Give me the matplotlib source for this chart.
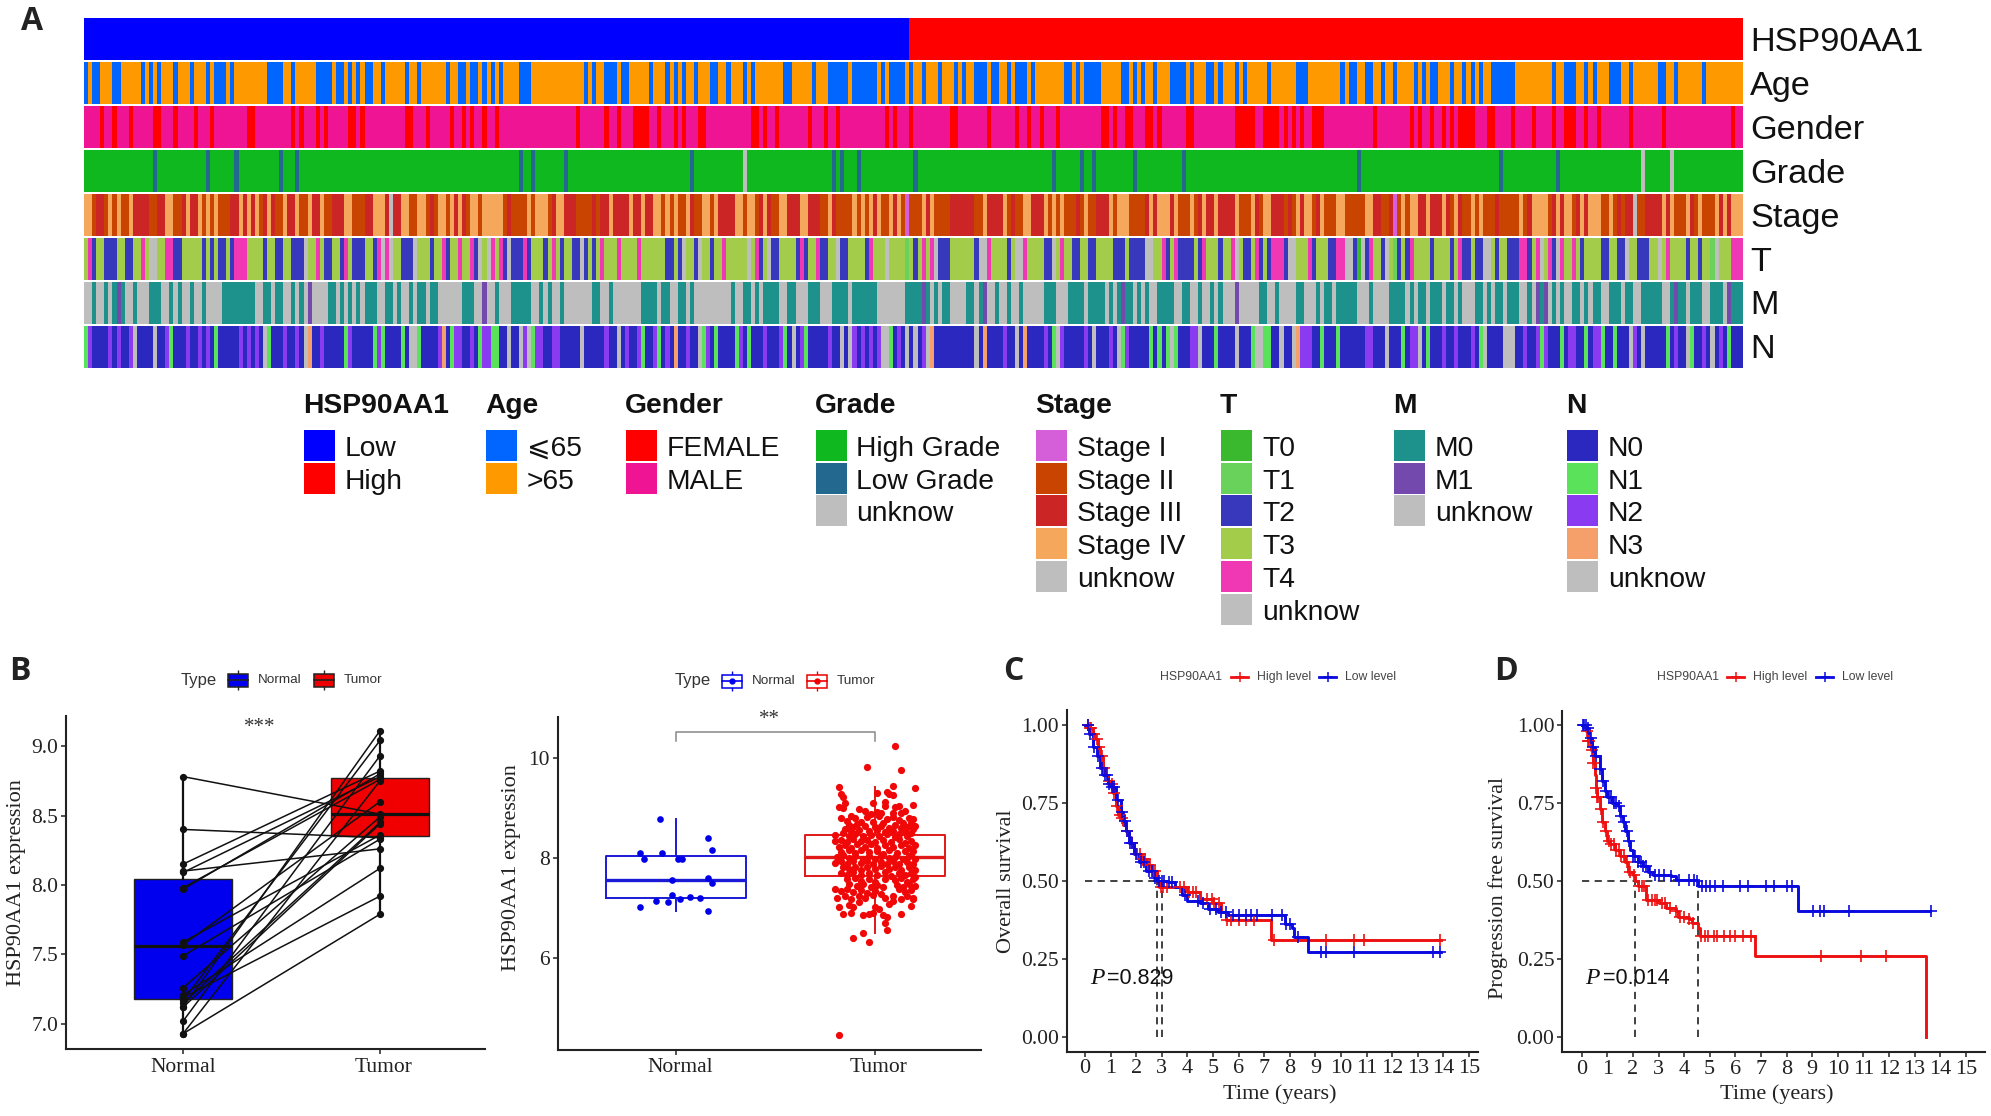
import numpy as np
import matplotlib
matplotlib.use("Agg")
import matplotlib.pyplot as plt
from matplotlib.colors import ListedColormap
from matplotlib.patches import Rectangle
from matplotlib.transforms import ScaledTranslation

W, H = 1991, 1116
SERIF = "Liberation Serif"
SANS = "Liberation Sans"
plt.rcParams["font.family"] = SANS

# ---------------- Panel A data: patient columns (run start, run stop) ----------------
N_PATIENTS = 408
N_LOW = 203
age_young = [(0,1),(2,4),(7,9),(14,15),(16,17),(18,19),(22,23),(26,27),(30,31),(32,35),(36,37),(45,49),(51,52),(57,61),(62,64),(65,66),(67,68),(69,71),(73,74),(79,80),(82,83),(89,90),(92,94),(95,97),(98,99),(100,101),(102,103),(107,110),(123,124),(125,126),(128,131),(132,134),(139,140),(143,144),(145,146),(147,148),(150,151),(154,156),(158,159),(162,163),(164,165),(172,174),(179,180),(183,188),(189,195),(196,197),(198,202),(203,204),(206,207),(210,211),(214,215),(216,217),(219,222),(223,225),(227,228),(229,232),(233,234),(241,243),(244,245),(246,250),(255,257),(258,259),(260,261),(263,264),(267,271),(272,273),(276,278),(279,280),(283,284),(285,286),(291,292),(298,301),(309,310),(311,313),(315,317),(319,320),(322,323),(327,328),(329,330),(331,333),(336,337),(339,340),(341,342),(343,344),(346,352),(361,362),(364,367),(369,370),(371,372),(375,378),(380,381),(387,389),(391,392),(398,399)]
gender_female = [(4,5),(7,8),(11,12),(17,19),(22,23),(27,28),(31,32),(40,42),(51,52),(53,54),(57,58),(59,60),(65,67),(68,69),(79,81),(84,85),(90,91),(93,94),(95,96),(98,99),(101,102),(121,122),(128,129),(131,132),(135,139),(141,142),(145,146),(147,148),(151,153),(164,166),(167,168),(170,171),(178,179),(182,183),(185,186),(197,198),(199,200),(203,204),(213,215),(222,223),(229,230),(232,233),(235,236),(239,240),(250,252),(253,254),(256,258),(261,263),(264,265),(271,273),(283,288),(290,293),(293,294),(295,296),(297,298),(299,300),(302,305),(317,318),(326,327),(328,329),(331,332),(334,335),(336,337),(338,339),(339,342),(345,347),(351,352),(356,357),(361,362),(364,367),(369,370),(372,373),(380,381),(388,389),(405,406)]
grade_low = [(17,18),(30,31),(37,38),(48,49),(52,53),(107,108),(110,111),(118,119),(149,150),(184,185),(186,187),(190,191),(204,205),(238,239),(245,246),(248,249),(258,259),(270,271),(313,314),(348,349),(362,363)]
grade_unknown = [(162,163),(383,384),(390,391)]

# Patient-by-patient categories, run-length coded, three blocks of 136 patients.
# Stage: I=stage I, D=stage II, R=stage III, L=stage IV, U=unknow
stage_runs = [
 "L2 D R2 D L D L D2 L R4 D2 R2 L2 D2 R L R2 L D L D L D3 R2 L R L R L D R L R D2 L R2 L D2 L R2 L D2 R3 L2 D3 R2 L3 R U R2 L2 D2 L2 D R D L2 D L R L R D L2 D L5 D R D4 L D L3 D R L2 R3 D4 R D R2 L R4 L R",
 "R L R2 L2 D L D L D2 L R D2 L2 D L R4 L2 D L2 D R L R D2 L2 R3 L2 R3 D2 L R D4 L D L D L R L D2 L R L D I D3 L R L D4 R6 D2 L R4 L D R D2 L2 R3 L D L D L D2 D R D L D2 R3 L D L3 D4 R L R L3 R L D",
 "L D R L R2 L R4 L D3 L R D L2 R3 D R D L R L2 D R L D3 L2 D5 L2 R2 D2 R I D L D L2 R2 L R3 L R D L R D2 L D L D2 D R D D4 L D R L4 D R L R L2 D R L R L3 D2 L D R D R R U D2 R4 L R L D3 L R D L D3 L R L R L",
]
# T: 0=T0, 1=T1, B=T2, G=T3, P=T4, U=unknow
t_runs = [
 "G P B G2 B3 G2 B2 G2 P G U2 G2 P2 B2 G5 B G B G B2 G B P3 G4 B G2 B2 G2 B3 U G2 P G B2 G2 B P G B3 G2 B P U P U G2 B3 U G3 B G2 P B G2 P G2 P B U G U P G P B U B3 P B G3 B G P G B G2 B2 U B G B G P G3 P G3",
 "P G6 B2 G B U G2 B U G2 B G2 P G5 U G P B G U B2 G4 B P B G2 P B2 G2 U B2 G4 B P G3 U G4 1 G B G P G P U B3 G6 B U2 P G4 B G U2 P G4 B2 U G P G2 B2 G2 B2 G4 B3 G B4 U2 G2 P B G P B2",
 "B G B P G3 B G2 P U G B2 G P B G B P3 B U2 G3 P B G3 B2 P2 U2 B 0 U B P G2 B U G 1 B G B P G4 B G4 B G P B2 G B2 U2 G B G2 B3 P2 B G P U G P B U P G2 P G B G4 B2 G2 B2 U G2 B3 G2 U G P G4 B G2 B G2 1 U G3 P2",
]
# M: M=M0, P=M1, U=unknow
m_runs = [
 "U2 M U2 M U M P M U2 M U3 M3 U2 M U M U2 M U2 M U4 M8 U2 M2 U M2 U2 M U M U P U4 M2 U M U M U M U M3 U2 M2 U M U2 M U M2 U M2 U6 M3 U2 P U2 M U3 M5 U2 M U M U2 M U7 M2 U2 M U5",
 "U M4 U M2 U2 M2 U M U9 M U2 M2 U M U M4 U2 M2 U3 M3 U3 M4 U M6 U7 M4 P M U M U M2 U4 M2 U M P U2 M U2 M U2 M U5 M3 U3 M4 U M4 U M U M P M2 U M U M U2 M4 U2 M",
 "U2 M U2 M U M U3 P U5 M2 U2 M U4 M2 U3 M U M2 U M5 U3 M U4 M4 U M U M2 U M3 U M2 U M U3 M2 U M U M2 U M3 U2 M U P M P U M U M U2 M2 U M U M2 U2 M3 U M2 U2 M5 U2 M P M2 U M3 U2 M3 U P M2",
]
# N: B=N0, G=N1, P=N2, O=N3, U=unknow
n_runs = [
 "G P B4 P B P B2 P U B4 U B2 P G B3 P B2 P B P B G B5 P B P B P B U G B3 P B2 P B U O B2 P B5 G P B5 G P G B4 G B U2 G B4 P O B G P2 B2 P B G P2 G2 B2 U B2 U P U G P2 B2 P2 B5 U B5 P B2 U B P B",
 "P G B2 P G B P B O B2 P B2 U G P B G B4 G P B G B3 P B3 P G B U B P G B5 P B2 U B U P B P B P B P U2 G B P B U B U B P U O B10 U B O B4 P B2 U B O B4 P B G U P B5 P B U B3 P B U G P B5 G B G B G U G B2",
 "P2 U B3 G B4 U B3 G U2 G2 B2 U B2 U O P3 B2 G B3 G B6 P2 B3 U B3 G B P2 U B G B3 P B2 P B3 P B G U B4 U3 B2 P B2 P G P B3 G B P2 B2 G B P2 G B2 G B3 U P B U B5 G B P B2 U G B2 P B U B P B G B2",
]

track_names = ["HSP90AA1", "Age", "Gender", "Grade", "Stage", "T", "M", "N"]
track_colors = [
    ["#0000ff", "#ff0000"],
    ["#0066ff", "#ff9900"],
    ["#ff0000", "#ee1493"],
    ["#10b820", "#23688f", "#bebebe"],
    ["#d45fd8", "#c84400", "#cc2525", "#f5a85c", "#bebebe"],
    ["#3ab82e", "#69d25a", "#3838bc", "#a3cc4a", "#f038b4", "#bebebe"],
    ["#1d918c", "#7349ae", "#bebebe"],
    ["#2a28bf", "#5ae35a", "#8a3af0", "#f5a06a", "#bebebe"],
]
track_labels = [
    ["Low", "High"],
    ["\u2a7d65", ">65"],
    ["FEMALE", "MALE"],
    ["High Grade", "Low Grade", "unknow"],
    ["Stage I", "Stage II", "Stage III", "Stage IV", "unknow"],
    ["T0", "T1", "T2", "T3", "T4", "unknow"],
    ["M0", "M1", "unknow"],
    ["N0", "N1", "N2", "N3", "unknow"],
]

def track(default, *layers):
    a = np.full(N_PATIENTS, default)
    for code, runs in layers:
        for s, e in runs:
            a[s:e] = code
    return a

def decode(blocks, codes, block_len=136):
    out = []
    for text in blocks:
        seq = []
        for tok in text.split():
            sym, n = tok[0], tok[1:]
            seq += [codes[sym]] * (int(n) if n else 1)
        seq = seq[:block_len]
        seq += [seq[-1]] * (block_len - len(seq))
        out += seq
    return np.array(out)

tracks = [
    track(1, (0, [(0, N_LOW)])),
    track(1, (0, age_young)),
    track(1, (0, gender_female)),
    track(0, (1, grade_low), (2, grade_unknown)),
    decode(stage_runs, dict(I=0, D=1, R=2, L=3, U=4)),
    decode(t_runs, {"0": 0, "1": 1, "B": 2, "G": 3, "P": 4, "U": 5}),
    decode(m_runs, dict(M=0, P=1, U=2)),
    decode(n_runs, dict(B=0, G=1, P=2, O=3, U=4)),
]

# ---------------- Panel B data ----------------
paired_normal = [8.78, 8.40, 8.15, 8.10, 8.09, 7.98, 7.97, 7.59, 7.57, 7.49, 7.26, 7.21, 7.19, 7.17, 7.15, 7.12, 7.12, 7.02, 6.93, 6.93]
paired_tumor  = [8.51, 8.34, 8.82, 8.26, 8.78, 8.76, 8.80, 8.36, 8.60, 8.33, 8.49, 8.12, 7.92, 9.04, 8.45, 9.11, 8.44, 8.93, 8.75, 7.79]
paired_box_normal = dict(q1=7.18, med=7.56, q3=8.04, whislo=6.93, whishi=8.78)
paired_box_tumor = dict(q1=8.35, med=8.51, q3=8.77, whislo=7.79, whishi=9.11)
box_normal = dict(q1=7.19, med=7.56, q3=8.03, whislo=6.93, whishi=8.77)
box_tumor = dict(q1=7.63, med=8.02, q3=8.45, whislo=6.49, whishi=9.42)
normal_jitter = [-0.08, 0.16, 0.18, -0.18, -0.07, -0.16, 0.01, 0.03, -0.02, 0.16, 0.18, -0.02, 0.07, 0.12, 0.02, -0.04, -0.10, -0.18, 0.16]
normal_values = [8.77, 8.40, 8.15, 8.09, 8.10, 7.98, 7.98, 7.97, 7.56, 7.59, 7.50, 7.26, 7.22, 7.20, 7.17, 7.12, 7.13, 7.02, 6.93]
tumor_points = [
 (.10,10.23),(-.04,9.81),(.13,9.75),(-.18,9.42),(.09,9.43),(.20,9.40),(.01,9.29),(.06,9.32),(-.17,9.27),(.09,9.26),(-.16,9.22),(.07,9.27),
 (-.15,9.10),(.05,9.12),(-.01,9.09),(-.18,9.02),(-.16,9.00),(.12,9.03),(.10,9.02),(.19,9.05),(.05,9.04),(-.08,8.97),(-.05,8.94),(.01,8.92),(.03,8.89),(.09,8.90),(.15,8.94),(.13,8.90),(-.02,8.88),
 (-.17,8.79),(-.12,8.84),(-.10,8.80),(-.04,8.82),(.02,8.84),(.06,8.78),(.09,8.82),(.12,8.76),(.17,8.79),(.19,8.78),(-.14,8.74),(-.07,8.72),(-.01,8.72),(.04,8.70),(.14,8.70),(.18,8.70),(.20,8.63),
 (-.13,8.66),(-.11,8.62),(-.09,8.68),(-.05,8.63),(.00,8.61),(.03,8.64),(.07,8.60),(.10,8.66),(.13,8.60),(.16,8.62),(.19,8.57),(-.15,8.58),(-.12,8.53),(-.08,8.56),(-.03,8.53),(.01,8.55),(.05,8.52),(.09,8.53),(.15,8.54),(.18,8.50),
 (-.20,8.45),(-.16,8.49),(-.13,8.44),(-.10,8.48),(-.06,8.43),(-.02,8.46),(.02,8.43),(.06,8.47),(.10,8.41),(.12,8.47),(.16,8.43),(.20,8.26),(-.20,8.33),(-.17,8.36),(-.14,8.32),(-.11,8.37),(-.07,8.33),(-.04,8.36),(.00,8.31),(.04,8.36),(.08,8.32),(.12,8.37),(.15,8.30),(.18,8.34),
 (-.18,8.22),(-.15,8.26),(-.12,8.20),(-.09,8.27),(-.05,8.22),(-.02,8.27),(.01,8.20),(.05,8.26),(.09,8.22),(.13,8.26),(.17,8.19),(.19,8.13),(-.17,8.12),(-.13,8.15),(-.10,8.09),(-.07,8.16),(-.03,8.11),(.01,8.14),(.04,8.08),(.07,8.15),(.11,8.10),(.15,8.13),(.18,8.06),
 (-.19,8.01),(-.16,8.05),(-.13,7.99),(-.10,8.04),(-.06,7.98),(-.03,8.03),(.00,7.97),(.03,8.03),(.07,7.99),(.10,8.02),(.14,7.97),(.17,8.03),(.20,7.97),(-.20,7.90),(-.17,7.93),(-.14,7.88),(-.11,7.94),(-.07,7.89),(-.04,7.93),(-.01,7.87),(.03,7.92),(.06,7.87),(.09,7.93),(.12,7.88),(.16,7.92),(.19,7.87),
 (-.16,7.81),(-.13,7.77),(-.10,7.82),(-.07,7.76),(-.04,7.82),(.00,7.78),(.03,7.83),(.07,7.77),(.10,7.82),(.13,7.76),(.17,7.81),(.20,7.75),(-.17,7.70),(-.14,7.66),(-.11,7.71),(-.07,7.65),(-.03,7.69),(.01,7.66),(.05,7.71),(.08,7.64),(.12,7.70),(.15,7.65),(.18,7.70),(.20,7.62),
 (-.14,7.57),(-.10,7.60),(-.07,7.54),(-.03,7.58),(.00,7.52),(.05,7.57),(.10,7.55),(.13,7.59),(.16,7.52),(.19,7.57),(-.13,7.47),(-.09,7.43),(-.06,7.48),(-.02,7.42),(.01,7.46),(.04,7.41),(.11,7.46),(.14,7.42),(.17,7.47),(.20,7.43),
 (-.20,7.38),(-.17,7.33),(-.14,7.37),(-.11,7.31),(-.07,7.36),(-.04,7.30),(.00,7.34),(.03,7.28),(.12,7.37),(.15,7.31),(.18,7.35),(-.19,7.20),(-.15,7.24),(-.12,7.18),(-.08,7.24),(-.05,7.20),(-.01,7.25),(.05,7.20),(.09,7.24),(.13,7.18),(.16,7.23),(.19,7.20),
 (-.18,7.01),(-.16,6.88),(-.13,7.06),(-.12,6.90),(-.11,7.02),(-.08,7.12),(-.06,6.86),(-.03,6.87),(-.01,6.90),(.00,7.02),(.02,6.98),(.04,6.85),(.06,6.82),(.07,7.08),(.09,7.14),(.13,6.87),(.18,7.03),(.19,7.18),(.05,6.69),(.06,6.55),
 (-.11,6.40),(-.06,6.49),(-.03,6.32),(-.18,4.45),
]
tumor_jitter = [p[0] for p in tumor_points]
tumor_values = [p[1] for p in tumor_points]

# ---------------- Panel C / D data: step curves (time, survival) and censor times ----------------
os_high_t = [0,.1,.2,.3,.4,.5,.6,.7,.8,.9,1.0,1.1,1.2,1.3,1.4,1.5,1.6,1.7,1.8,1.9,2.0,2.2,2.4,2.6,2.8,2.9,3.5,4.0,4.5,5.0,5.3,5.5,7.25,13.9]
os_high_s = [1,1,.99,.97,.955,.93,.90,.86,.84,.82,.81,.78,.74,.71,.70,.68,.66,.64,.62,.60,.585,.57,.55,.53,.50,.48,.48,.465,.44,.43,.40,.375,.31,.31]
os_low_t = [0,.15,.3,.45,.6,.7,.9,1.0,1.2,1.4,1.5,1.6,1.7,1.9,2.1,2.4,2.7,2.8,3.2,3.5,3.8,4.0,4.5,4.8,5.2,5.6,7.7,7.8,8.1,8.15,8.7,13.9]
os_low_s = [1,.97,.93,.90,.86,.84,.81,.80,.76,.72,.69,.66,.62,.585,.56,.53,.51,.50,.495,.48,.455,.435,.43,.41,.40,.39,.39,.36,.35,.32,.27,.27]
os_high_cens = [.1,.2,.25,.35,.45,.55,.65,.75,.95,1.05,1.15,1.25,1.35,1.45,1.65,1.85,2.05,2.15,2.25,2.35,2.45,2.55,2.65,2.75,2.95,3.05,3.2,3.7,3.85,4.05,4.2,4.35,4.75,4.95,5.05,5.25,5.55,5.7,6.0,6.3,6.6,7.4,9.4,10.5,10.9,13.85]
os_low_cens = [.1,.2,.35,.5,.65,.8,.85,.95,1.05,1.15,1.3,1.45,1.55,1.65,1.75,1.85,2.0,2.2,2.3,2.5,2.6,2.75,2.9,3.0,3.1,3.3,3.4,3.9,4.4,4.6,4.9,5.1,5.3,5.5,5.8,6.0,6.3,6.5,6.7,7.3,7.7,7.85,8.0,8.3,9.2,9.4,10.5,13.6,13.85]
pfs_high_t = [0,.15,.25,.35,.45,.5,.55,.6,.7,.8,.9,1.0,1.1,1.3,1.5,1.7,1.8,2.0,2.1,2.2,2.5,3.0,3.3,3.7,3.75,4.2,4.3,4.55,4.6,6.75,13.45,13.45]
pfs_high_s = [1,.98,.95,.92,.88,.84,.80,.77,.73,.69,.66,.63,.62,.60,.58,.56,.53,.52,.50,.485,.44,.43,.415,.405,.385,.38,.365,.35,.325,.26,.26,0]
pfs_low_t = [0,.2,.3,.4,.5,.7,.8,.9,1.0,1.2,1.4,1.5,1.6,1.7,1.8,1.9,2.0,2.2,2.4,2.6,2.8,3.5,3.7,4.5,4.55,8.45,13.6]
pfs_low_s = [1,.99,.96,.93,.90,.86,.82,.79,.77,.75,.74,.71,.69,.66,.63,.60,.58,.56,.55,.53,.52,.515,.505,.50,.485,.405,.405]
pfs_high_cens = [.2,.25,.3,.4,.45,.55,.6,.65,.75,.85,.95,1.05,1.15,1.25,1.35,1.45,1.55,1.65,1.75,1.9,2.05,2.25,2.35,2.45,2.6,2.75,2.85,2.95,3.15,3.25,3.45,3.7,3.85,4.0,4.2,4.35,4.65,4.8,4.95,5.15,5.3,5.55,5.8,6.0,6.3,6.6,9.35,10.9,11.9]
pfs_low_cens = [.05,.1,.15,.25,.35,.45,.55,.7,.85,.95,1.05,1.15,1.25,1.35,1.45,1.55,1.65,1.75,1.85,2.0,2.1,2.2,2.3,2.4,2.5,2.65,2.85,3.0,3.2,3.5,3.8,4.2,4.4,4.5,4.7,4.85,5.0,5.2,5.5,6.2,6.5,7.2,7.5,8.0,8.2,9.05,9.3,9.45,10.45,13.65]

fig = plt.figure(figsize=(W / 100, H / 100), dpi=100, facecolor="white")

def px_axes(l, t, r, b, **kw):
    return fig.add_axes([l / W, 1 - b / H, (r - l) / W, (b - t) / H], **kw)

ov = px_axes(0, 0, W, H)
ov.set_xlim(0, W); ov.set_ylim(H, 0); ov.axis("off"); ov.set_zorder(5)

# ---------------- Panel A ----------------
HM_L, HM_R = 84, 1743
for i, (arr, cols) in enumerate(zip(tracks, track_colors)):
    top = 18.3 + 43.95 * i
    ax = px_axes(HM_L, top, HM_R, top + 42)
    ax.imshow(arr[None, :], aspect="auto", cmap=ListedColormap(cols), vmin=-0.5, vmax=len(cols) - 0.5,
              interpolation="nearest")
    ax.axis("off")
    ov.text(1750, top + 24, track_names[i], fontsize=24.7, va="center", ha="left", color="#111111")

leg_x = [304, 486, 626, 815.5, 1036, 1221, 1394, 1567]
for x, name, cols, labs in zip(leg_x, track_names, track_colors, track_labels):
    ov.text(x - 1, 406, name, fontsize=20.3, fontweight="bold", va="center", ha="left", color="#111111")
    sw = 31
    for j, (c, lab) in enumerate(zip(cols, labs)):
        y = 430 + 32.7 * j
        ov.add_patch(Rectangle((x, y), sw, 31, facecolor=c, edgecolor="none"))
        fam = ["Liberation Sans", "DejaVu Sans"]
        ov.text(x + 41, y + 19, lab, fontsize=20.3, va="center", ha="left", color="#111111", family=fam)

for letter, x, y in [("A", 21, 21), ("B", 9, 672), ("C", 1003, 672), ("D", 1494, 672)]:
    ov.text(x, y, letter, fontsize=23, fontweight="bold", family="Open Sans", va="center", ha="left", color="#222222")

def style(ax, ylabel, yt, ytl, xt, xtl, xfs=15.5):
    for s in ("top", "right"):
        ax.spines[s].set_visible(False)
    for s in ("left", "bottom"):
        ax.spines[s].set_linewidth(1.5)
        ax.spines[s].set_color("#222222")
    ax.set_yticks(yt); ax.set_yticklabels(ytl, family=SERIF, fontsize=15.5, color="#222222")
    ax.set_xticks(xt); ax.set_xticklabels(xtl, family=SERIF, fontsize=xfs, color="#222222")
    ax.tick_params(axis="both", length=3.5, width=1.1, color="#222222", pad=2)
    ax.set_ylabel(ylabel, family=SERIF, fontsize=16, color="#222222")

def nudge_xlabels(ax, dxs):
    for lab, dx in zip(ax.get_xticklabels(), dxs):
        lab.set_transform(lab.get_transform() + ScaledTranslation(dx / 100, -1 / 100, fig.dpi_scale_trans))

def type_legend(xtype, x1, xt1, x2, xt2, y, filled):
    ov.text(xtype, y, "Type", fontsize=12, va="center", ha="left", color="#333333")
    for x, xt, c, lab in [(x1, xt1, "#0000ee", "Normal"), (x2, xt2, "#ee0000", "Tumor")]:
        ec = "#222222" if filled else c
        fc = c if filled else "white"
        ov.plot([x + 10, x + 10], [y - 10, y + 10], color=ec, lw=1, solid_capstyle="butt")
        ov.add_patch(Rectangle((x, y - 6.5), 20, 13, facecolor=fc, edgecolor=ec, lw=1.1, zorder=3))
        ov.plot([x, x + 20], [y, y], color=ec, lw=1.2, zorder=4)
        if not filled:
            ov.plot([x + 10], [y], "o", color=c, ms=3.5, zorder=5)
        ov.text(xt, y, lab, fontsize=9.7, va="center", ha="left", color="#333333")
ov.set_xlim(0, W); ov.set_ylim(H, 0)

# ---------------- Panel B left ----------------
ax = px_axes(66, 716, 485, 1049)
ax.set_xlim(-0.594, 1.533); ax.set_ylim(6.82, 9.216)
bp = ax.bxp([dict(paired_box_normal, fliers=[]), dict(paired_box_tumor, fliers=[])], positions=[0, 1], widths=0.5,
            patch_artist=True, showcaps=False, showfliers=False,
            boxprops=dict(linewidth=1.0, edgecolor="#222222"), whiskerprops=dict(linewidth=1.6, color="#111111"),
            medianprops=dict(linewidth=2.3, color="#111111"))
for b, c in zip(bp["boxes"], ["#0000ee", "#f00000"]):
    b.set_facecolor(c)
for a, b in zip(paired_normal, paired_tumor):
    ax.plot([0, 1], [a, b], color="#111111", lw=1.1, marker="o", ms=4.2, zorder=4)
style(ax, "HSP90AA1 expression", [7, 7.5, 8, 8.5, 9], ["7.0", "7.5", "8.0", "8.5", "9.0"], [0, 1], ["Normal", "Tumor"])
ax.yaxis.labelpad = 4
nudge_xlabels(ax, [0, 4])
ov.text(260, 727, "***", family=SERIF, fontsize=15, ha="center", va="center", color="#333333")
type_legend(181, 228, 258, 314, 344, 680, True)

# ---------------- Panel B right ----------------
ax = px_axes(557.7, 717, 981, 1049.7)
ax.set_xlim(-0.594, 1.533); ax.set_ylim(4.16, 10.81)
bp = ax.bxp([dict(box_normal, fliers=[]), dict(box_tumor, fliers=[])], positions=[0, 1], widths=0.7,
            patch_artist=False, showcaps=False, showfliers=False)
for k, c in enumerate(["#1a1ad6", "#e01818"]):
    bp["boxes"][k].set(color=c, linewidth=1.4)
    bp["medians"][k].set(color=c, linewidth=2.4)
    for w in bp["whiskers"][2 * k:2 * k + 2]:
        w.set(color=c, linewidth=1.4)
ax.scatter(normal_jitter, normal_values, s=23, color="#0000e8", zorder=3, linewidths=0)
ax.scatter(1 + np.array(tumor_jitter), tumor_values, s=27, color="#f00808", zorder=3, linewidths=0)
ax.plot([0, 0, 1, 1], [10.34, 10.52, 10.52, 10.34], color="#888888", lw=1.1)
style(ax, "HSP90AA1 expression", [6, 8, 10], ["6", "8", "10"], [0, 1], ["Normal", "Tumor"])
ax.yaxis.set_label_coords(-0.087, 0.546)
nudge_xlabels(ax, [4, 4])
ov.text(769, 720, "**", family=SERIF, fontsize=15, ha="center", va="center", color="#333333")
type_legend(675, 722, 752, 807, 837, 681, False)

# ---------------- Panels C, D ----------------
def km(box, xlim, ylim, hi, lo, ylabel, vlines, hend, ptxt, px, py, eqx, leg, xlabel_px, ylab):
    ax = px_axes(*box)
    ax.set_xlim(*xlim); ax.set_ylim(*ylim)
    ax.plot([0, hend], [.5, .5], color="#333333", lw=1.3, ls=(0, (4, 3)), zorder=1)
    for v in vlines:
        ax.plot([v, v], [0, .5], color="#333333", lw=1.3, ls=(0, (4, 3)), zorder=1)
    for (t, s, cens), c in zip([hi, lo], ["#ee1111", "#0a0ae0"]):
        t, s, cens = np.array(t), np.array(s), np.array(cens)
        ax.step(t, s, where="post", color=c, lw=2.1, zorder=3)
        idx = np.searchsorted(t, cens, side="right") - 1
        ax.plot(cens, s[idx], ls="none", marker="+", ms=8, mew=1.2, color=c, zorder=4)
    style(ax, ylabel, [0, .25, .5, .75, 1], ["0.00", "0.25", "0.50", "0.75", "1.00"],
          list(range(16)), [str(i) for i in range(16)], xfs=16)
    ax.set_xlabel("Time (years)", family=SERIF, fontsize=16, color="#222222")
    ax.xaxis.set_label_coords((xlabel_px[0] - box[0]) / (box[2] - box[0]), -(xlabel_px[1] - box[3]) / (box[3] - box[1]))
    ax.yaxis.set_label_coords(*ylab)
    ov.text(px, py, "P", family=SERIF, style="italic", fontsize=17, va="center", ha="left", color="#111111")
    ov.text(eqx, py, "=" + ptxt, fontsize=15.5, va="center", ha="left", color="#111111")
    (xn, k1, t1, k2, t2, y) = leg
    ov.text(xn, y, "HSP90AA1", fontsize=8.8, va="center", ha="left", color="#444444")
    for kx, tx, c, lab in [(k1, t1, "#ee1111", "High level"), (k2, t2, "#0a0ae0", "Low level")]:
        ov.plot([kx, kx + 17], [y, y], color=c, lw=2)
        ov.plot([kx + 8.5], [y], marker="+", ms=7, mew=1.1, color=c)
        ov.text(tx, y, lab, fontsize=8.8, va="center", ha="left", color="#444444")

km((1066.7, 710, 1478, 1051.7), (-0.715, 15.35), (-0.048, 1.047),
   (os_high_t, os_high_s, os_high_cens), (os_low_t, os_low_s, os_low_cens),
   "Overall survival", [2.8, 3.0], 3.0, "0.829", 1090, 978, 1107, (1160, 1231, 1257, 1319, 1345, 677),
   (1280, 1084), (-0.124, 0.5))
km((1562, 710.7, 1985, 1052), (-0.77, 15.75), (-0.048, 1.0465),
   (pfs_high_t, pfs_high_s, pfs_high_cens), (pfs_low_t, pfs_low_s, pfs_low_cens),
   "Progression free survival", [2.1, 4.55], 4.55, "0.014", 1585, 978, 1603, (1657, 1727, 1753, 1816, 1842, 677),
   (1777, 1084), (-0.128, 0.48))
ov.set_xlim(0, W); ov.set_ylim(H, 0)

fig.savefig("out.png", dpi=100, facecolor="white")
